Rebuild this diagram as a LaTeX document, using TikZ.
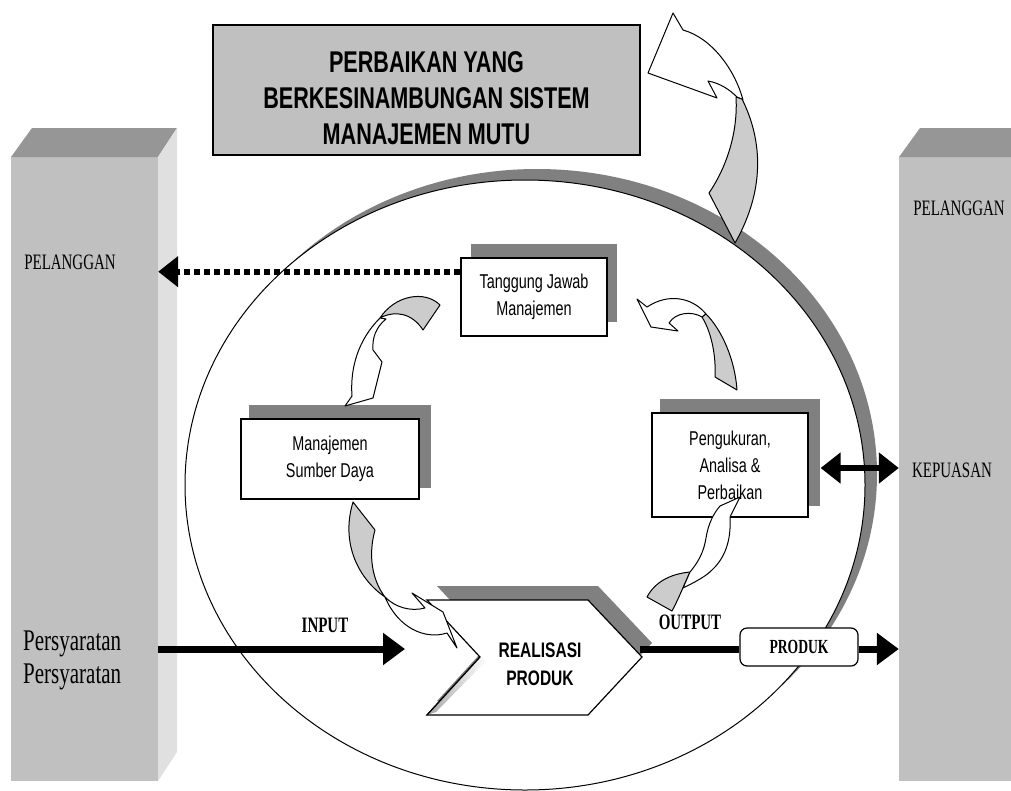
\documentclass[tikz,border=0pt]{standalone}
\usepackage{fontspec}
\setmainfont{Liberation Serif}
\setsansfont{Liberation Sans}
\usepackage{graphicx}
\usetikzlibrary{arrows.meta,calc}
\definecolor{pillar}{RGB}{192,192,192}
\definecolor{pillartop}{RGB}{150,150,150}
\definecolor{pillarside}{RGB}{224,224,224}
\definecolor{shadowgray}{RGB}{128,128,128}
\definecolor{twistgray}{RGB}{204,204,204}
\definecolor{titlefill}{RGB}{192,192,192}
% horizontally condensed text
\newcommand{\sq}[2][0.7]{\scalebox{#1}[1]{#2}}
\begin{document}
\begin{tikzpicture}[x=1pt,y=-1pt,
  boxtext/.style={font=\sffamily\fontsize{20}{27}\selectfont, align=center},
  whitebox/.style={draw=black, line width=1.2pt, fill=white, inner sep=0pt, boxtext},
  serif label/.style={font=\rmfamily\fontsize{22}{26}\selectfont, inner sep=0pt},
  bold label/.style={font=\rmfamily\bfseries\fontsize{22}{26}\selectfont, inner sep=0pt},
  curved/.style={draw=black, line width=1pt, line join=round},
  bigarrow/.style={line width=7pt, -{Triangle[length=22pt,width=31pt]}},
]
\useasboundingbox (0,0) rectangle (1011,790);

% ---- pillars ----
\node[fill=pillar, inner sep=0, minimum width=147, minimum height=624] (lpil) at (84.5,469) {};
\fill[pillartop] (11,157) -- (32,128) -- (177,128) -- (158,157) -- cycle;
\fill[pillarside] (158,157) -- (177,128) -- (177,752) -- (158,781) -- cycle;
\node[fill=pillar, inner sep=0, minimum width=112, minimum height=624] (rpil) at (955,469) {};
\fill[pillartop] (899,157) -- (920,128) -- (1011,128) -- (1011,157) -- cycle;

\node[serif label] (pelL) at (70,262) {\sq[0.68]{PELANGGAN}};
\node[serif label] (pelR) at (959,208) {\sq[0.68]{PELANGGAN}};
\node[serif label] (kep) at (952,470) {\sq[0.68]{KEPUASAN}};
\node[font=\rmfamily\fontsize{30}{33}\selectfont, inner sep=0, align=left, anchor=west] (syarat) at (23,660)
  {\sq{Persyaratan}\\\sq{Persyaratan}};

% ---- title ----
\node[draw=black, line width=1.2pt, fill=titlefill, minimum width=427, minimum height=130, inner sep=0]
  (title) at (426.5,90) {};
\node[font=\sffamily\bfseries\fontsize{30}{36}\selectfont, align=center, inner sep=0] (titletext) at (426.5,98)
  {\sq[0.72]{PERBAIKAN YANG}\\\sq[0.72]{BERKESINAMBUNGAN SISTEM}\\\sq[0.72]{MANAJEMEN MUTU}};

% ---- system ellipse with shadow ----
\fill[shadowgray] (537,474) ellipse [x radius=340, y radius=305];
\filldraw[fill=white, draw=black, line width=1pt] (525,485) ellipse [x radius=340, y radius=305];

% ---- process boxes ----
\fill[shadowgray] (471,244) rectangle (617,322);
\node[whitebox, minimum width=146, minimum height=78] (tjm) at (534,297)
  {\sq[0.72]{Tanggung Jawab}\\\sq[0.72]{Manajemen}};
\fill[shadowgray] (249,405) rectangle (431,488);
\node[whitebox, minimum width=178, minimum height=80] (msd) at (330,459)
  {\sq[0.72]{Manajemen}\\\sq[0.72]{Sumber Daya}};
\fill[shadowgray] (660,399) rectangle (820,506);
\node[whitebox, minimum width=156, minimum height=104] (pap) at (730,465)
  {\sq[0.72]{Pengukuran,}\\\sq[0.72]{Analisa \&}\\\sq[0.72]{Perbaikan}};

% ---- dotted feedback to customer ----
\coordinate (fbstart) at ($(tjm.north west)!0.18!(tjm.south west)$);
\draw[line width=6pt, dash pattern=on 6pt off 4pt, -{Triangle[length=20pt,width=30pt]}]
  (fbstart) -- (fbstart -| lpil.east);

% ---- product realisation ----
\fill[shadowgray] (437,586) -- (598,586) -- (652,643) -- (598,701) -- (437,701) -- (490,643) -- cycle;
\filldraw[fill=white, draw=black, line width=1.2pt]
  (427,600) -- (588,600) -- (642,657) -- (588,715) -- (427,715) -- (480,657) -- cycle;
\shade[left color=shadowgray, right color=white, opacity=0.7]
  (480,657) -- (487,660) -- (436,712) -- (427,715) -- cycle;
\draw[line width=1.2pt] (480,657) -- (427,715);
\node[font=\sffamily\bfseries\fontsize{21}{28}\selectfont, align=center, inner sep=0] (rp) at (540,664)
  {\sq[0.74]{REALISASI}\\\sq[0.74]{PRODUK}};
\coordinate (rptip) at (640,649);
\coordinate (inend) at (405,649);

% ---- curved arrows ----
% Tanggung Jawab -> Sumber Daya
\filldraw[curved, fill=twistgray] (440,305) .. controls (425,290) and (395,295) .. (380,318)
  .. controls (395,310) and (412,313) .. (423,330) -- cycle;
\filldraw[curved, fill=white] (380,318) .. controls (358,340) and (350,368) .. (352,396)
  -- (345,406) -- (373,398) -- (382,362) -- (373,350) .. controls (372,338) and (376,327) .. (386,319) -- cycle;
% Pengukuran -> Tanggung Jawab
\filldraw[curved, fill=white] (637,299) -- (647,307) .. controls (668,293) and (692,297) .. (706,314)
  -- (702,317) .. controls (692,311) and (676,312) .. (669,323) -- (678,331) -- (651,327) -- cycle;
\filldraw[curved, fill=twistgray] (706,314) .. controls (722,330) and (735,360) .. (737,390)
  -- (715,377) .. controls (716,360) and (713,335) .. (702,317) -- cycle;
% Sumber Daya -> Realisasi
\filldraw[curved, fill=twistgray] (353,502) -- (375,530) .. controls (368,555) and (372,580) .. (385,597)
  .. controls (360,580) and (340,545) .. (353,502) -- cycle;
\filldraw[curved, fill=white] (385,597) .. controls (395,607) and (410,612) .. (425,608)
  -- (412,593) -- (443,612) -- (457,648) -- (447,633) .. controls (425,640) and (398,628) .. (385,597) -- cycle;
% Realisasi -> Pengukuran
\filldraw[curved, fill=twistgray] (647,597) .. controls (655,582) and (670,574) .. (690,572)
  .. controls (684,585) and (678,600) .. (672,611) -- cycle;
\filldraw[curved, fill=white] (690,572) .. controls (700,560) and (704,550) .. (706,538)
  .. controls (708,525) and (713,514) .. (720,506) -- (740,497) -- (730,517)
  .. controls (731,535) and (728,555) .. (712,570) .. controls (705,577) and (695,582) .. (683,588) -- cycle;

% ---- continual improvement arrow ----
\filldraw[curved, fill=white] (683,30) -- (673,13) -- (648,73) -- (717,98) -- (708,81)
  .. controls (720,83) and (730,90) .. (737,97) -- (743,100) .. controls (735,70) and (712,38) .. (683,30) -- cycle;
\filldraw[curved, fill=twistgray] (736,97) -- (742,99) .. controls (760,135) and (768,185) .. (735,243)
  -- (709,193) .. controls (728,165) and (738,130) .. (736,97) -- cycle;

% ---- input / output ----
\draw[bigarrow] (lpil.east |- inend) -- (inend);
\node[bold label] (inlab) at (325,625) {\sq[0.68]{INPUT}};
\node[draw=black, line width=1.2pt, fill=white, rounded corners=7, minimum width=118, minimum height=38,
      inner sep=0, font=\rmfamily\bfseries\fontsize{20}{24}\selectfont] (prod) at (799,647) {\sq[0.68]{PRODUK}};
\draw[line width=7pt] (rptip) -- (prod.west |- rptip);
\node[bold label] (outlab) at (690,622) {\sq[0.68]{OUTPUT}};
\draw[line width=7pt, -{Triangle[length=22pt,width=31pt]}] (prod.east |- rptip) -- (rpil.west |- rptip);

% ---- satisfaction link ----
\draw[line width=6pt, {Triangle[length=20pt,width=30pt]}-{Triangle[length=20pt,width=30pt]}]
  ($(pap.east)+(12,3)$) -- (rpil.west |- 0,468);
\end{tikzpicture}
\end{document}
